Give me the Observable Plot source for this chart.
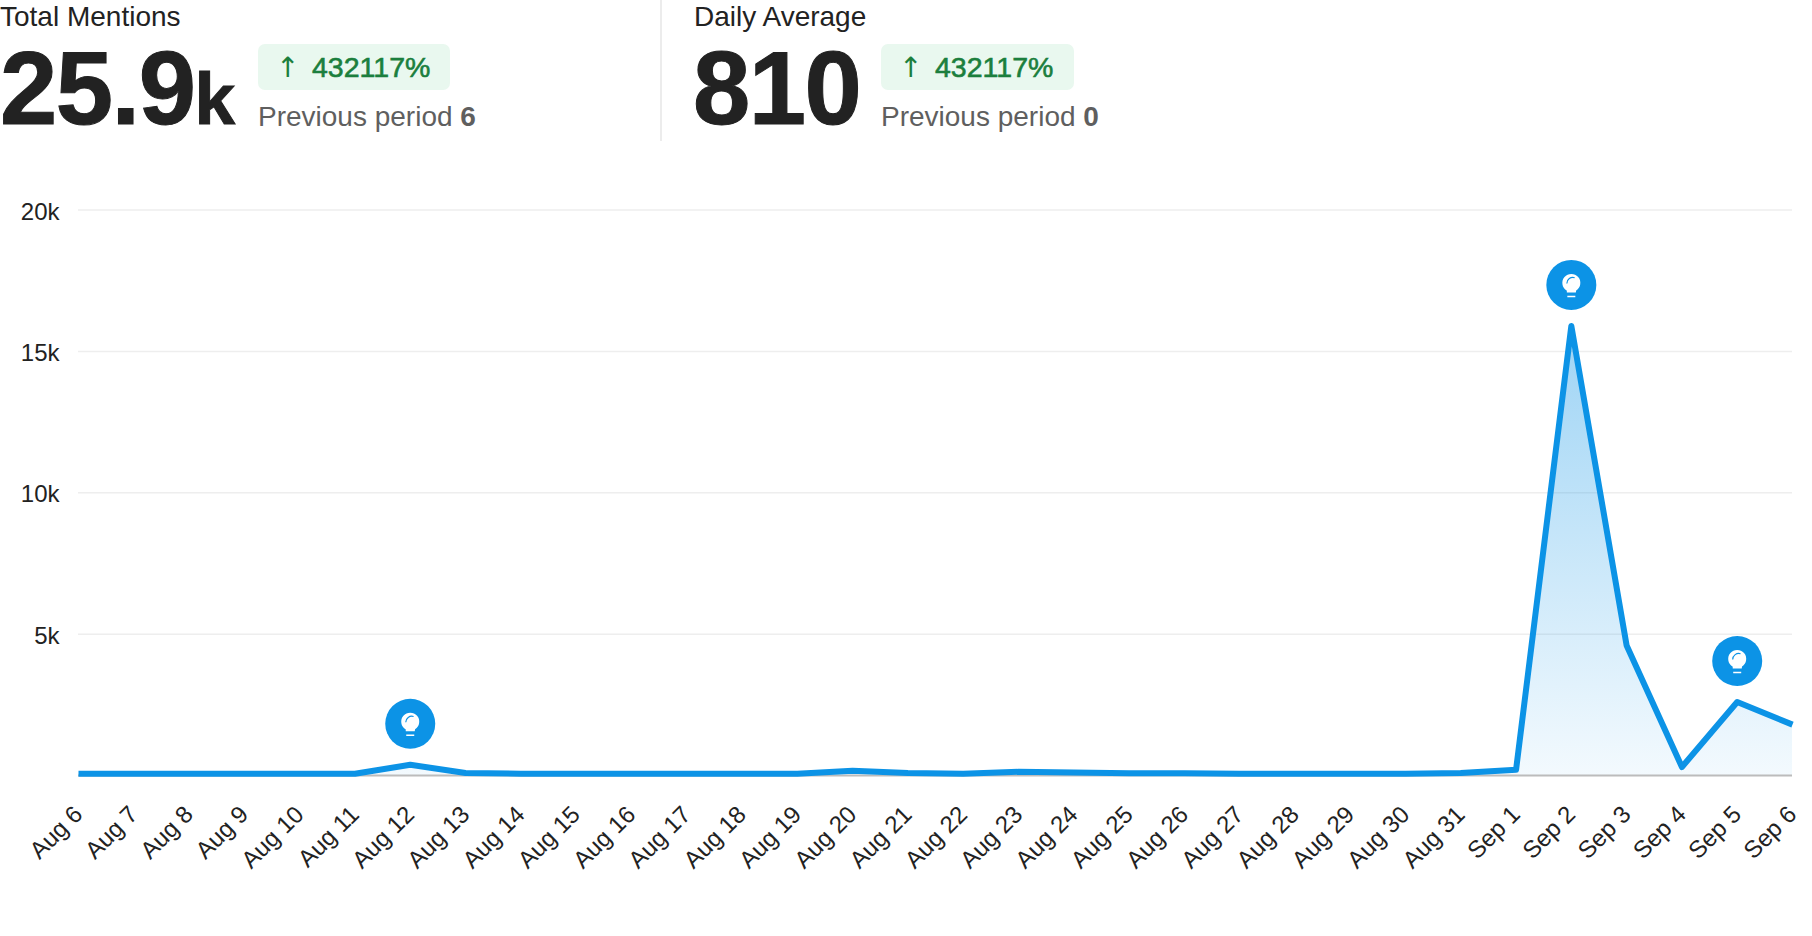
<!DOCTYPE html>
<html><head><meta charset="utf-8">
<script src="https://cdn.jsdelivr.net/npm/d3@7"></script>
<script src="https://cdn.jsdelivr.net/npm/@observablehq/plot@0.6"></script>
<style>
html,body{margin:0;padding:0;background:#fff;overflow:hidden}
body{width:1812px;height:936px;position:relative;font-family:"Liberation Sans",Arial,sans-serif}
#head{position:relative;height:145px;width:1812px}
#head div{position:absolute;white-space:nowrap}
.lab{font-size:28px;color:#222;top:0;line-height:33px}
.big{font-size:103px;font-weight:bold;color:#222;top:34px;line-height:110px;letter-spacing:-1.5px;-webkit-text-stroke:1px #222}
.big span{font-size:73px;margin-left:0;letter-spacing:0}
.badge{background:#e9f8ef;border-radius:7px;top:44px;height:46px;line-height:46px;color:#1b7f3d;font-size:28.5px;-webkit-text-stroke:0.6px #1b7f3d}
.badge b{font-family:"DejaVu Sans";font-weight:normal;-webkit-text-stroke:0;font-size:28px;margin-left:18px;width:36px;display:inline-block}
.prev{font-size:28px;color:#5f5f5f;top:100px;line-height:33px}
#div{left:660px;top:0;width:2px;height:141px;background:#ececec}
#chart{position:absolute;left:0;top:145px}
svg{display:block}
</style></head>
<body>
<div id="head"></div>
<div id="chart"></div>
<script>
const dates = ["2023-08-06","2023-08-07","2023-08-08","2023-08-09","2023-08-10","2023-08-11","2023-08-12","2023-08-13","2023-08-14","2023-08-15","2023-08-16","2023-08-17","2023-08-18","2023-08-19","2023-08-20","2023-08-21","2023-08-22","2023-08-23","2023-08-24","2023-08-25","2023-08-26","2023-08-27","2023-08-28","2023-08-29","2023-08-30","2023-08-31","2023-09-01","2023-09-02","2023-09-03","2023-09-04","2023-09-05","2023-09-06"];
const mentions = [60,60,60,60,60,60,380,90,65,60,60,60,60,60,165,85,60,130,110,80,80,65,60,60,60,90,200,15900,4600,300,2600,1800];
const yTicks = [5000,10000,15000,20000];
const insightDates = ["2023-08-12","2023-09-02","2023-09-05"];
const stats = [
  {label:"Total Mentions", big:"25.9", unit:"k", change:"432117%", prev:"6", labelX:0, bigX:0, badgeX:258, badgeW:192, prevX:258},
  {label:"Daily Average", big:"810", unit:"", change:"432117%", prev:"0", labelX:694, bigX:693, badgeX:881, badgeW:193, prevX:881}
];

const head = document.getElementById("head");
for (const s of stats) {
  head.insertAdjacentHTML("beforeend",
    `<div class="lab" style="left:${s.labelX}px">${s.label}</div>
     <div class="big" style="left:${s.bigX}px">${s.big}${s.unit?`<span>${s.unit}</span>`:""}</div>
     <div class="badge" style="left:${s.badgeX}px;width:${s.badgeW}px"><b>↑</b>${s.change}</div>
     <div class="prev" style="left:${s.prevX}px">Previous period <strong>${s.prev}</strong></div>`);
}
head.insertAdjacentHTML("beforeend",'<div id="div"></div>');

const parse = d3.utcParse("%Y-%m-%d");
const rows = dates.map((d,i)=>({date:parse(d),value:mentions[i]}));
const insights = rows.filter(r=>insightDates.includes(d3.utcFormat("%Y-%m-%d")(r.date)));
const blue = "#0c93e6";

const bulb = {draw(c){
  c.moveTo(-4.5,7.5);
  c.lineTo(-4.5,5.5);
  c.arc(0,-2,9,Math.PI*0.68,Math.PI*2.32);
  c.lineTo(4.5,7.5);
  c.closePath();
  c.moveTo(-4,10.8);c.lineTo(4,10.8);c.lineTo(4,12.3);c.lineTo(-4,12.3);c.closePath();
}};
const glint = {draw(c){
  c.arc(1.5,-1.5,6,Math.PI*1.0,Math.PI*1.6);
}};

const defs = () => {
  const g = d3.create("svg:defs");
  const lg = g.append("linearGradient").attr("id","fade").attr("x1",0).attr("y1",0).attr("x2",0).attr("y2",1);
  lg.append("stop").attr("offset",0).attr("stop-color","#0c93e6").attr("stop-opacity",0.4);
  lg.append("stop").attr("offset",1).attr("stop-color","#0c93e6").attr("stop-opacity",0.05);
  return g.node();
};

const chart = Plot.plot({
  width:1812, height:791,
  marginTop:64.5, marginBottom:161, marginLeft:78, marginRight:20,
  style:{fontFamily:'"Liberation Sans",Arial,sans-serif',background:"#fff",overflow:"visible"},
  x:{type:"utc",domain:[rows[0].date,rows[rows.length-1].date]},
  y:{domain:[0,20000]},
  marks:[
    defs,
    Plot.gridY(yTicks,{stroke:"#eeeeee",strokeOpacity:1,strokeWidth:1.5}),
    Plot.areaY(rows,{x:"date",y:"value",fill:"url(#fade)"}),
    Plot.ruleY([0],{stroke:"#bcbcbc",strokeWidth:2}),
    Plot.lineY(rows,{x:"date",y:"value",stroke:blue,strokeWidth:6,strokeLinejoin:"round",strokeLinecap:"butt"}),
    Plot.dot(insights,{x:"date",y:"value",r:25,fill:blue,dy:-41}),
    Plot.dot(insights,{x:"date",y:"value",symbol:bulb,fill:"#fff",stroke:"none",dy:-41}),
    Plot.dot(insights,{x:"date",y:"value",symbol:glint,fill:"none",stroke:blue,strokeWidth:1.2,dy:-41}),
    Plot.axisY(yTicks,{anchor:"left",tickSize:0,tickPadding:19,fontSize:24,fill:"#222",dy:2,label:null,tickFormat:d=>d/1000+"k"}),
    Plot.axisX(rows.map(r=>r.date),{anchor:"bottom",tickSize:0,tickPadding:35,fontSize:24,fill:"#222",label:null,tickRotate:-45,tickFormat:d3.utcFormat("%b %-d")})
  ]
});
document.getElementById("chart").append(chart);
</script>
</body></html>
